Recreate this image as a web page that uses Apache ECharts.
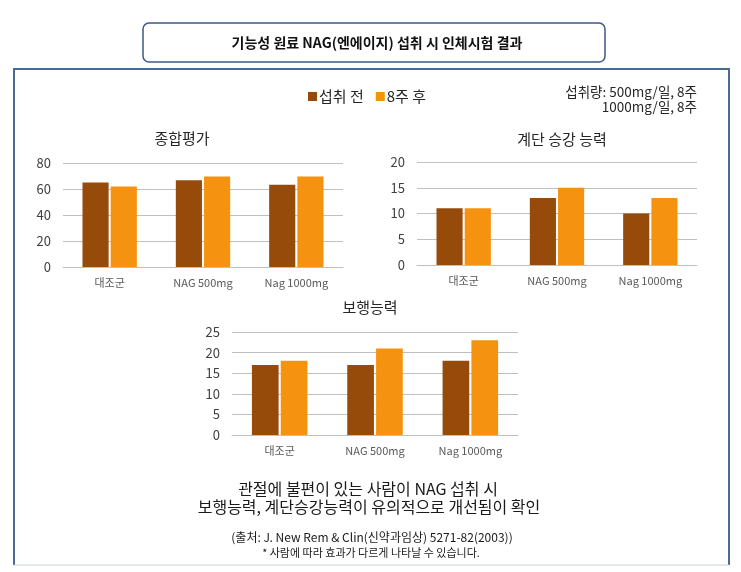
<!DOCTYPE html>
<html>
<head>
<meta charset="utf-8">
<script src="https://cdn.jsdelivr.net/npm/echarts@6/dist/echarts.min.js"></script>
<style>
  html, body { margin: 0; padding: 0; background: #fff; }
  #chart { width: 741px; height: 572px; }
</style>
</head>
<body>
<div id="chart"></div>
<script>
var categories = ['대조군', 'NAG 500mg', 'Nag 1000mg'];
var seriesNames = ['섭취 전', '8주 후'];

// 종합평가
var overallBefore = [65, 66.7, 63.3];
var overallAfter = [62, 69.7, 69.7];
// 계단 승강 능력
var stairsBefore = [11, 13, 10];
var stairsAfter = [11, 15, 13];
// 보행능력
var walkBefore = [17, 17, 18];
var walkAfter = [18, 21, 23];

var chartTitles = ['종합평가', '계단 승강 능력', '보행능력'];
var yMax = [80, 20, 25];
var yStep = [20, 5, 5];

var darkColor = '#974B0A';
var lightColor = '#F5920F';
var font = '"Noto Sans CJK KR", "Noto Sans", sans-serif';

var myChart = echarts.init(document.getElementById('chart'));

var grids = [
    { left: 63, top: 163, width: 280, height: 104 },
    { left: 417, top: 162, width: 280, height: 103 },
    { left: 232, top: 332, width: 286, height: 103 }
];

function xAxisFor(i) {
    return {
        type: 'category',
        gridIndex: i,
        data: categories,
        axisTick: { show: false },
        axisLine: { lineStyle: { color: '#bfbfbf', width: 1 } },
        axisLabel: { color: '#595959', fontSize: 11, fontFamily: font, margin: 10 }
    };
}

function yAxisFor(i) {
    return {
        type: 'value',
        gridIndex: i,
        min: 0,
        max: yMax[i],
        interval: yStep[i],
        axisLine: { show: false },
        axisTick: { show: false },
        axisLabel: { color: '#404040', fontSize: 13, fontFamily: font, margin: 12 },
        splitLine: { lineStyle: { color: '#bfbfbf', width: 1 } }
    };
}

function barSeries(name, data, idx, color) {
    return {
        name: name,
        type: 'bar',
        xAxisIndex: idx,
        yAxisIndex: idx,
        data: data,
        barWidth: '28%',
        barGap: '8%',
        itemStyle: { color: color },
        silent: true
    };
}

var option = {
    animation: false,
    textStyle: { fontFamily: font },
    title: [
        { text: chartTitles[0], left: 177, top: 126, textAlign: 'center',
          textStyle: { fontSize: 15, fontWeight: 'normal', color: '#262626', fontFamily: font } },
        { text: chartTitles[1], left: 557, top: 127, textAlign: 'center',
          textStyle: { fontSize: 15, fontWeight: 'normal', color: '#262626', fontFamily: font } },
        { text: chartTitles[2], left: 365, top: 295, textAlign: 'center',
          textStyle: { fontSize: 15, fontWeight: 'normal', color: '#262626', fontFamily: font } }
    ],
    legend: {
        left: 303,
        top: 84,
        data: seriesNames,
        icon: 'rect',
        itemWidth: 9,
        itemHeight: 9,
        itemGap: 12,
        textStyle: { fontSize: 15, color: '#262626', fontFamily: font, padding: [0, 0, 0, -3] }
    },
    grid: grids,
    xAxis: [xAxisFor(0), xAxisFor(1), xAxisFor(2)],
    yAxis: [yAxisFor(0), yAxisFor(1), yAxisFor(2)],
    series: [
        barSeries(seriesNames[0], overallBefore, 0, darkColor),
        barSeries(seriesNames[1], overallAfter, 0, lightColor),
        barSeries(seriesNames[0], stairsBefore, 1, darkColor),
        barSeries(seriesNames[1], stairsAfter, 1, lightColor),
        barSeries(seriesNames[0], walkBefore, 2, darkColor),
        barSeries(seriesNames[1], walkAfter, 2, lightColor)
    ],
    graphic: [
        // 제목 박스
        { type: 'rect', shape: { x: 143, y: 23, width: 462, height: 39, r: 6 },
          style: { fill: '#fff', stroke: '#3b5a87', lineWidth: 1.5 }, z: 1 },
        { type: 'text', x: 377, y: 43, z: 2,
          style: { text: '기능성 원료 NAG(엔에이지) 섭취 시 인체시험 결과', fill: '#111',
                   font: 'bold 14px ' + font, textAlign: 'center', textVerticalAlign: 'middle' } },
        // 바깥 박스
        { type: 'polyline', shape: { points: [[14, 565], [14, 69], [729, 69], [729, 565]] },
          style: { fill: null, stroke: '#4a6a96', lineWidth: 2 }, z: 1 },
        { type: 'line', shape: { x1: 14, y1: 565, x2: 729, y2: 565 },
          style: { stroke: '#c9d3e3', lineWidth: 1 }, z: 1 },
        // 섭취량
        { type: 'text', x: 697, y: 92, z: 2,
          style: { text: '섭취량: 500mg/일, 8주', fill: '#262626', font: '13.5px ' + font,
                   textAlign: 'right', textVerticalAlign: 'middle' } },
        { type: 'text', x: 697, y: 107, z: 2,
          style: { text: '1000mg/일, 8주', fill: '#262626', font: '13.5px ' + font,
                   textAlign: 'right', textVerticalAlign: 'middle' } },
        // 결론
        { type: 'text', x: 368, y: 489, z: 2,
          style: { text: '관절에 불편이 있는 사람이 NAG 섭취 시', fill: '#1a1a1a', font: '16px ' + font,
                   textAlign: 'center', textVerticalAlign: 'middle' } },
        { type: 'text', x: 369, y: 507, z: 2,
          style: { text: '보행능력, 계단승강능력이 유의적으로 개선됨이 확인', fill: '#1a1a1a', font: '16px ' + font,
                   textAlign: 'center', textVerticalAlign: 'middle' } },
        { type: 'text', x: 372, y: 537, z: 2,
          style: { text: '(출처: J. New Rem & Clin(신약과임상) 5271-82(2003))', fill: '#1a1a1a', font: '12px ' + font,
                   textAlign: 'center', textVerticalAlign: 'middle' } },
        { type: 'text', x: 371, y: 553, z: 2,
          style: { text: '* 사람에 따라 효과가 다르게 나타날 수 있습니다.', fill: '#1a1a1a', font: '11px ' + font,
                   textAlign: 'center', textVerticalAlign: 'middle' } }
    ]
};

myChart.setOption(option);
</script>
</body>
</html>
